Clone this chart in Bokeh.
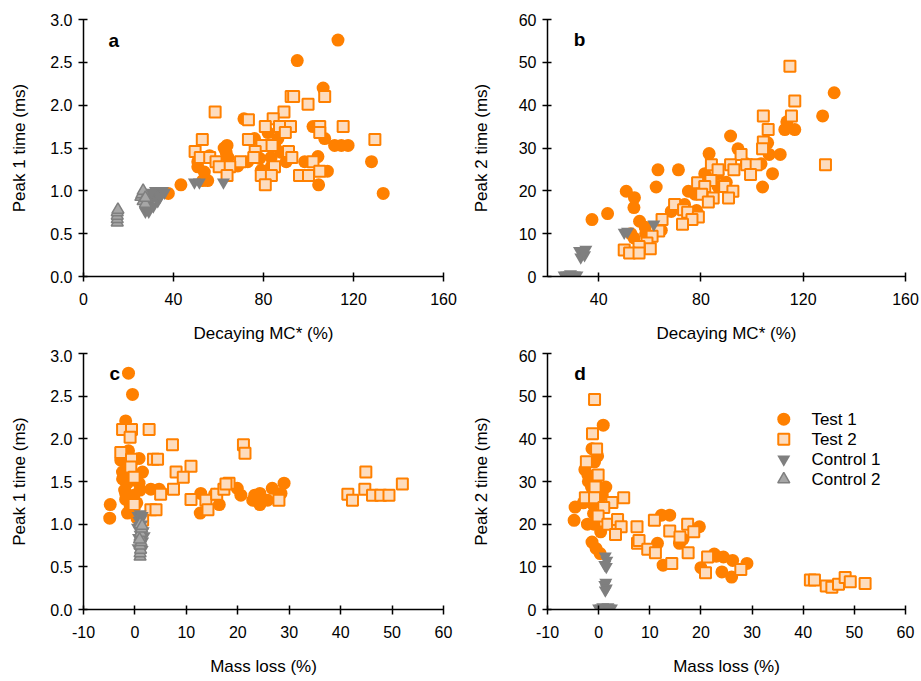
from bokeh.plotting import figure
from bokeh.layouts import gridplot
from bokeh.models import (ColumnDataSource, FixedTicker, NumeralTickFormatter,
                          Label, Range1d)
from bokeh.core.properties import value
from bokeh.embed import file_html
from bokeh.resources import INLINE

# ---------------- data ----------------
# Panel a: decaying MC* (%) vs peak 1 time (ms)
a_t1_x = [113.1, 95.0, 106.5, 71.3, 102.0, 82.0, 107.2, 111.6, 114.6, 117.6, 63.8, 63.4, 76.0, 86.4,
          85.0, 128.0, 133.2, 104.2, 98.3, 108.4, 104.5, 43.3, 37.7, 55.2, 53.0, 50.8, 50.8, 53.7,
          56.0, 64.2, 68.6, 73.0, 79.0, 78.3, 83.4, 87.9, 90.1, 90.5, 83.4, 62.5]
a_t1_y = [2.76, 2.52, 2.20, 1.84, 1.75, 1.68, 1.61, 1.53, 1.53, 1.53, 1.53, 1.45, 1.61, 1.61,
          1.53, 1.34, 0.97, 1.40, 1.34, 1.23, 1.07, 1.07, 0.97, 1.12, 1.12, 1.34, 1.28, 1.22,
          1.41, 1.39, 1.29, 1.34, 1.24, 1.38, 1.39, 1.45, 1.34, 1.46, 1.28, 1.50]
a_t2_x = [58.5, 92.3, 93.4, 99.8, 107.2, 73.3, 89.1, 84.3, 80.8, 87.1, 92.0, 105.0, 115.4, 89.7,
          105.0, 129.5, 52.8, 73.3, 79.3, 83.8, 49.6, 51.9, 56.1, 76.3, 75.7, 91.1, 92.6, 58.9,
          69.8, 102.0, 65.0, 60.3, 84.9, 63.8, 79.0, 83.5, 96.0, 100.0, 105.0, 80.8]
a_t2_y = [1.92, 2.10, 2.10, 2.01, 2.10, 1.83, 1.92, 1.84, 1.75, 1.75, 1.75, 1.75, 1.75, 1.68,
          1.68, 1.60, 1.60, 1.60, 1.53, 1.53, 1.46, 1.39, 1.39, 1.46, 1.39, 1.46, 1.39, 1.34,
          1.34, 1.34, 1.28, 1.28, 1.28, 1.18, 1.18, 1.18, 1.18, 1.18, 1.23, 1.07]
a_c1_x = [27.5, 28.0, 29.0, 30.0, 31.0, 32.0, 33.0, 34.0, 35.0, 36.0, 29.0, 31.0, 33.0, 34.0,
          30.0, 49.3, 51.5, 62.2]
a_c1_y = [0.76, 0.80, 0.85, 0.90, 0.95, 1.00, 0.97, 1.00, 1.00, 0.98, 0.76, 0.82, 0.88, 0.93,
          0.98, 1.10, 1.10, 1.10]
a_c2_x = [15.0, 15.0, 15.0, 15.0, 15.3, 25.5, 26.0, 26.5, 26.5, 27.5, 27.5]
a_c2_y = [0.63, 0.67, 0.71, 0.75, 0.78, 0.93, 0.96, 1.00, 0.88, 0.85, 0.92]

# Panel b: decaying MC* (%) vs peak 2 time (ms)
b_t1_x = [132.1, 127.6, 113.6, 112.8, 116.7, 91.6, 106.1, 94.5, 106.7, 111.0, 83.2, 63.2, 71.2,
          108.0, 81.5, 97.7, 103.5, 86.7, 89.9, 104.1, 62.5, 50.8, 54.0, 53.8, 75.1, 77.7, 43.5,
          37.4, 68.4, 73.6, 78.3, 56.0, 64.5, 58.2, 52.6, 53.8, 58.4, 79.6, 82.7, 86.7]
b_t1_y = [42.9, 37.5, 36.1, 34.3, 34.3, 32.8, 31.2, 29.8, 28.5, 28.5, 28.7, 24.9, 24.9,
          24.0, 24.0, 26.3, 26.3, 24.0, 22.0, 20.9, 20.9, 19.9, 18.4, 16.1, 19.9, 19.2, 14.7,
          13.3, 15.2, 16.8, 15.4, 12.9, 10.8, 11.5, 10.0, 9.0, 10.0, 21.7, 22.8, 21.0]
b_t2_x = [114.8, 116.7, 104.4, 115.4, 106.3, 104.4, 104.1, 128.7, 95.7, 84.1, 91.6, 92.9, 97.9,
          101.6, 99.4, 86.7, 83.9, 78.7, 81.5, 89.3, 92.5, 80.3, 84.8, 90.8, 82.9, 69.7, 73.2,
          74.8, 79.0, 76.5, 72.8, 64.8, 63.5, 60.9, 58.9, 60.2, 55.8, 50.0, 52.1, 55.8]
b_t2_y = [49.1, 41.0, 37.5, 37.5, 34.3, 31.4, 29.8, 26.1, 28.5, 26.1, 26.1, 24.9, 26.1,
          26.1, 23.8, 24.9, 22.4, 21.9, 21.0, 21.0, 19.9, 19.2, 18.3, 18.3, 17.4, 16.8, 15.6,
          15.0, 13.9, 13.3, 12.2, 13.3, 10.6, 9.4, 7.8, 6.5, 7.0, 6.2, 5.5, 5.5]
b_c1_x = [26.5, 27.5, 28.5, 29.5, 30.5, 31.5, 29.0, 32.5, 33.5, 34.5, 33.0, 35.0, 34.0, 50.0,
          51.3, 61.6]
b_c1_y = [0.3, 0.3, 0.3, 0.3, 0.3, 0.3, 0.6, 6.0, 5.5, 5.0, 4.5, 6.3, 6.0, 10.3, 10.5, 12.2]

# Panel c: mass loss (%) vs peak 1 time (ms)
c_t1_x = [-1.25, -0.47, -1.8, -1.25, 0.81, -2.75, 1.47, -2.42, -2.4, -1.5, 0.8, 3.1, 4.7, -1.8,
          -0.2, -1.8, -4.8, -4.9, -1.45, 0.36, 12.8, 12.7, 16.4, 15.5, 19.9, 20.6, 22.9, 24.3,
          24.3, 25.8, 26.7, 28.4, 29.0, 23.3, -0.9, 0.4, -1.0, -0.5, -2.0, 1.0]
c_t1_y = [2.77, 2.52, 2.21, 1.86, 1.77, 1.75, 1.61, 1.61, 1.53, 1.48, 1.48, 1.41, 1.41, 1.36,
          1.34, 1.29, 1.23, 1.07, 1.13, 1.25, 1.36, 1.13, 1.23, 1.35, 1.42, 1.34, 1.28, 1.36,
          1.23, 1.28, 1.42, 1.36, 1.48, 1.34, 1.20, 1.07, 1.68, 1.55, 1.40, 1.40]
c_t2_x = [-2.4, -0.67, 2.76, -0.94, -2.75, -0.67, -0.8, -0.16, 3.6, 4.4, 7.3, 10.9, 8.0, 9.4,
          7.5, 5.0, 10.9, 13.8, 14.2, 15.9, 17.3, 18.3, 17.7, 21.1, 21.4, -0.16, 3.1, 4.1,
          28.0, 41.4, 42.3, 44.9, 44.7, 46.2, 47.8, 49.4, 52.0, 1.5]
c_t2_y = [2.11, 2.11, 2.11, 2.02, 1.84, 1.76, 1.67, 1.55, 1.76, 1.76, 1.93, 1.68, 1.61, 1.55,
          1.41, 1.35, 1.29, 1.28, 1.17, 1.35, 1.41, 1.48, 1.47, 1.93, 1.83, 1.23, 1.17, 1.17,
          1.28, 1.35, 1.28, 1.61, 1.41, 1.34, 1.34, 1.34, 1.47, 1.05]
c_c1_x = [0.6, 1.0, 1.4, 0.8, 1.3, 0.5, 1.6, 1.0, 0.7, 1.5, 1.1, 0.6, 1.4, 0.9, 1.2, 1.8]
c_c1_y = [1.10, 1.12, 1.10, 1.04, 1.00, 0.96, 0.92, 0.88, 0.84, 0.80, 0.76, 0.72, 0.70, 0.98,
          1.06, 0.86]
c_c2_x = [1.0, 1.0, 1.1, 1.0, 1.2, 1.0, 1.1, 1.3, 1.0, 1.4, 0.9]
c_c2_y = [0.62, 0.66, 0.70, 0.75, 0.79, 0.85, 0.90, 0.95, 1.00, 0.98, 0.82]

# Panel d: mass loss (%) vs peak 2 time (ms)
d_t1_x = [0.9, -1.3, -0.8, -2.7, -2.1, -0.5, -1.4, 1.4, 0.7, -2.4, -4.6, -1.2, -4.8, -2.2, -0.9,
          0.4, -1.3, -0.5, 0.3, 12.3, 13.9, 11.5, 12.6, 15.8, 19.7, 20.0, 22.6, 24.4, 26.2, 24.1,
          26.0, 29.0, -1.0, 0.0, 1.0, -2.0, -3.0, 23.0, 16.5, -0.2]
d_t1_y = [43.2, 37.7, 34.6, 32.8, 31.5, 30.3, 28.7, 28.7, 26.8, 26.0, 24.0, 24.8, 20.9, 20.0,
          20.0, 18.2, 15.8, 14.3, 13.1, 22.1, 22.1, 15.5, 10.4, 15.5, 19.4, 9.8, 13.0, 12.3,
          11.5, 8.8, 7.6, 10.8, 22.5, 25.5, 24.0, 30.0, 25.0, 12.5, 16.5, 36.0]
d_t2_x = [-0.8, -1.2, -0.4, -2.4, -0.1, -0.7, -2.6, -0.8, 4.9, 2.6, 1.0, -0.1, 1.8, 3.7, 3.7,
          4.4, 3.3, 7.5, 10.9, 7.6, 7.9, 9.6, 11.1, 13.9, 14.3, 15.9, 17.4, 18.6, 17.5, 21.3,
          20.9, 27.8, 41.4, 42.2, 44.5, 45.6, 46.9, 48.2, 49.2, 52.1]
d_t2_y = [49.2, 41.2, 37.6, 34.6, 31.5, 28.7, 26.2, 26.2, 26.2, 25.1, 23.9, 21.9, 20.0, 20.0,
          21.1, 19.4, 17.6, 19.4, 20.9, 15.5, 16.2, 14.1, 13.3, 18.4, 10.8, 17.0, 20.0, 18.2,
          13.3, 12.3, 8.6, 9.4, 6.9, 6.9, 5.5, 5.2, 5.9, 7.5, 6.5, 6.1]
d_c1_x = [1.3, 1.6, 1.2, 1.5, 1.4, 1.2, 1.5, 1.3, 0.0, 0.5, 1.0, 1.5, 2.0, 2.5, 0.8, 1.8]
d_c1_y = [12.5, 11.5, 10.5, 10.0, 6.3, 5.8, 5.0, 4.5, 0.3, 0.3, 0.3, 0.3, 0.3, 0.3, 0.6, 0.6]

series_names = ["Test 1", "Test 2", "Control 1", "Control 2"]

# ---------------- styling ----------------
FONT = "Liberation Sans"
ORANGE = "#FF8000"
PEACH = "#FDDCBE"
DARK = "#7F7F7F"
LIGHT = "#A6A6A6"

STYLES = [
    dict(marker="circle", size=13, fill_color=ORANGE, line_color=None),
    dict(marker="square", size=11, fill_color=PEACH, line_color=ORANGE, line_width=2),
    dict(marker="inverted_triangle", size=13, fill_color=DARK, line_color=None),
    dict(marker="triangle", size=12, fill_color=LIGHT, line_color=DARK, line_width=1.5),
]


def make_fig(width, height, xr, yr, xticks, yticks, yfmt, xlabel, ylabel,
             bl, br, bt, bb, ystand):
    p = figure(width=width, height=height, x_range=Range1d(*xr), y_range=Range1d(*yr),
               output_backend="svg", toolbar_location=None,
               min_border_left=bl, min_border_right=br, min_border_top=bt, min_border_bottom=bb)
    p.outline_line_color = None
    p.xgrid.visible = False
    p.ygrid.visible = False
    p.xaxis.ticker = FixedTicker(ticks=xticks)
    p.yaxis.ticker = FixedTicker(ticks=yticks)
    p.yaxis.formatter = NumeralTickFormatter(format=yfmt)
    p.xaxis.formatter = NumeralTickFormatter(format="0")
    p.xaxis.axis_label = xlabel
    p.yaxis.axis_label = ylabel
    for ax in (p.xaxis[0], p.yaxis[0]):
        ax.axis_line_color = "black"
        ax.axis_line_width = 1.5
        ax.major_tick_line_color = "black"
        ax.major_tick_line_width = 1.5
        ax.major_tick_in = 4
        ax.major_tick_out = 5
        ax.minor_tick_line_color = None
        ax.major_label_text_font = FONT
        ax.major_label_text_font_size = "16px"
        ax.major_label_text_color = "black"
        ax.axis_label_text_font = FONT
        ax.axis_label_text_font_size = "17px"
        ax.axis_label_text_font_style = "normal"
        ax.axis_label_text_color = "black"
    p.xaxis.major_label_standoff = 11
    p.xaxis.axis_label_standoff = 16
    p.yaxis.major_label_standoff = 6
    p.yaxis.axis_label_standoff = ystand
    return p


def add_series(p, pairs):
    rs = []
    for (xs, ys), st in zip(pairs, STYLES):
        rs.append(p.scatter(x="x", y="y", source=ColumnDataSource(dict(x=xs, y=ys)), **st))
    return rs


def letter(p, txt, x, y):
    p.add_layout(Label(x=x, y=y, text=txt, text_font=FONT, text_font_size="19px",
                       text_font_style="bold", text_color="black",
                       text_align="center", text_baseline="middle"))


pa = make_fig(468, 349, (0, 160), (0, 3), [0, 40, 80, 120, 160],
              [0, 0.5, 1, 1.5, 2, 2.5, 3], "0.0", "Decaying MC* (%)", "Peak 1 time (ms)",
              83, 25, 19, 73, 18)
add_series(pa, [(a_t1_x, a_t1_y), (a_t2_x, a_t2_y), (a_c1_x, a_c1_y), (a_c2_x, a_c2_y)])
letter(pa, "a", 13.5, 2.76)

pb = make_fig(452, 349, (20, 160), (0, 60), [40, 80, 120, 160],
              [0, 10, 20, 30, 40, 50, 60], "0", "Decaying MC* (%)", "Peak 2 time (ms)",
              75, 15, 19, 73, 25)
add_series(pb, [(b_t1_x, b_t1_y), (b_t2_x, b_t2_y), (b_c1_x, b_c1_y)])
letter(pb, "b", 32.5, 55.3)

pc = make_fig(468, 330, (-10, 60), (0, 3), [-10, 0, 10, 20, 30, 40, 50, 60],
              [0, 0.5, 1, 1.5, 2, 2.5, 3], "0.0", "Mass loss (%)", "Peak 1 time (ms)",
              83, 25, 4, 70, 18)
add_series(pc, [(c_t1_x, c_t1_y), (c_t2_x, c_t2_y), (c_c1_x, c_c1_y), (c_c2_x, c_c2_y)])
letter(pc, "c", -3.9, 2.77)

pd_ = make_fig(452, 330, (-10, 60), (0, 60), [-10, 0, 10, 20, 30, 40, 50, 60],
               [0, 10, 20, 30, 40, 50, 60], "0", "Mass loss (%)", "Peak 2 time (ms)",
               77, 15, 4, 70, 25)
add_series(pd_, [(d_t1_x, d_t1_y), (d_t2_x, d_t2_y), (d_c1_x, d_c1_y)])
letter(pd_, "d", -3.65, 55.4)

# legend (drawn as a key inside panel d, layout constants in data units of panel d)
LEG_MARK_X = 36.2
LEG_TEXT_X = 41.6
LEG_TOP_Y = 44.6
LEG_STEP = 4.7
for i, (name, st) in enumerate(zip(series_names, STYLES)):
    yy = LEG_TOP_Y - i * LEG_STEP
    pd_.scatter(x=[LEG_MARK_X], y=[yy], **st)
    pd_.text(x=[LEG_TEXT_X], y=[yy], text=[name], text_font=value(FONT),
             text_font_size="17px", text_color="black", text_baseline="middle",
             text_align="left")

grid = gridplot([[pa, pb], [pc, pd_]], toolbar_location=None)

open("out.html", "w").write(file_html(grid, INLINE))
